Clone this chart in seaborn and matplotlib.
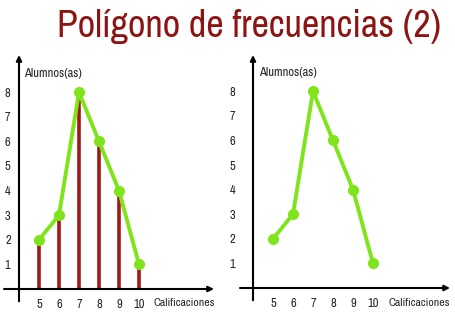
import matplotlib
matplotlib.use("Agg")
import matplotlib.pyplot as plt
import seaborn as sns
import pandas as pd

calificaciones = [5, 6, 7, 8, 9, 10]
alumnos = [2, 3, 8, 6, 4, 1]
yticks = [1, 2, 3, 4, 5, 6, 7, 8]
title = "Polígono de frecuencias (2)"
ylabel = "Alumnos(as)"
xlabel = "Calificaciones"

sns.set_style("white")
plt.rcParams["font.family"] = ["Archivo Narrow", "Liberation Sans", "DejaVu Sans"]

df = pd.DataFrame({"x": calificaciones, "y": alumnos})

W, H = 456, 315
fig = plt.figure(figsize=(W / 100, H / 100), dpi=100)
fig.patch.set_facecolor("white")

GREEN = "#80E41C"
STEM = "#A01818"
TITLE = "#8E1414"

fig.text(249.5 / W, 1 - 37 / H, title, ha="center", va="baseline",
         fontsize=27.5, color=TITLE)

def panel(axis_x, axis_y, x_end, x_start, ytick_pad, stems, lab_pos, cal_pos):
    px_x = 20.0
    px_y = 24.6
    top_px = 55
    right_px = x_end
    left = axis_x / W
    bottom = 1 - axis_y / H
    width = (right_px - axis_x) / W
    height = (axis_y - top_px) / H
    ax = fig.add_axes([left, bottom, width, height])
    ax.set_xlim(4, 4 + (right_px - axis_x) / px_x)
    ax.set_ylim(0, (axis_y - top_px) / px_y)
    ax.patch.set_alpha(0)
    for s in ax.spines.values():
        s.set_visible(False)
    if stems:
        ax.vlines(df["x"], 0, df["y"], color=STEM, lw=2.6, zorder=2)
    sns.lineplot(data=df, x="x", y="y", ax=ax, color=GREEN, lw=2.8,
                 marker="o", markersize=8, markeredgewidth=0, zorder=3)
    x0 = 4 - (axis_x - x_start) / px_x
    ax.annotate("", xy=(1.0, 0), xycoords=("axes fraction", "data"),
                xytext=(x0, 0), textcoords="data",
                arrowprops=dict(arrowstyle="-|>", color="black", lw=1.5,
                                mutation_scale=8, shrinkA=0, shrinkB=0),
                annotation_clip=False)
    ax.annotate("", xy=(4, 1.0), xycoords=("data", "axes fraction"),
                xytext=(4, -0.5), textcoords="data",
                arrowprops=dict(arrowstyle="-|>", color="black", lw=1.5,
                                mutation_scale=8, shrinkA=0, shrinkB=0),
                annotation_clip=False)
    ax.set_xticks(calificaciones)
    ax.set_yticks(yticks)
    ax.tick_params(axis="both", length=0, labelsize=9)
    ax.tick_params(axis="x", pad=7)
    ax.tick_params(axis="y", pad=ytick_pad)
    ax.set_xlabel("")
    ax.set_ylabel("")
    fig.text(lab_pos[0] / W, 1 - lab_pos[1] / H, ylabel, ha="left",
             va="center", fontsize=9)
    fig.text(cal_pos[0] / W, 1 - cal_pos[1] / H, xlabel, ha="left",
             va="center", fontsize=8.4)
    return ax

panel(19, 289, 214, 4, 6, True, (24, 73), (154, 303))
panel(253, 288, 450, 240, 13, False, (259, 72), (389, 303))

fig.savefig("out.png", dpi=100, facecolor="white")
